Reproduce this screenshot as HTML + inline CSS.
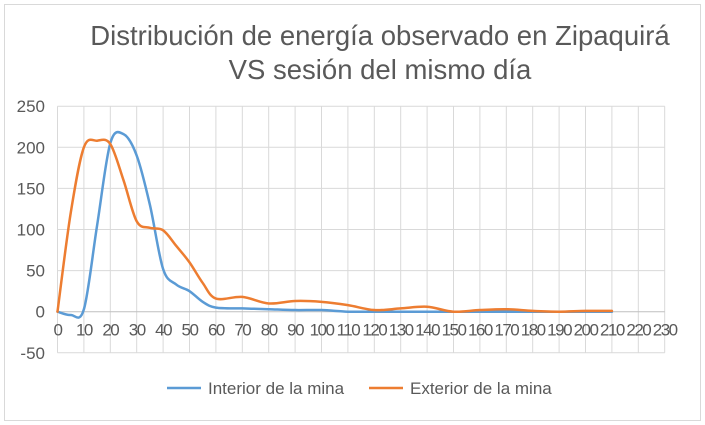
<!DOCTYPE html>
<html><head><meta charset="utf-8"><style>
body{margin:0;background:#fff;}
svg{display:block;font-family:"Liberation Sans",sans-serif;}
</style></head><body>
<svg id="s" width="705" height="425" xmlns="http://www.w3.org/2000/svg">
<rect x="4.5" y="4.5" width="696" height="416" fill="#fff" stroke="#d9d9d9"/>
<text x="380" y="45" font-size="27.5" fill="#595959" text-anchor="middle">Distribución de energía observado en Zipaquirá</text>
<text x="380" y="79" font-size="27.5" fill="#595959" text-anchor="middle">VS sesión del mismo día</text>
<g id="grid" stroke="#d9d9d9" stroke-width="1"></g>
<g id="lab" font-size="17" fill="#595959"></g>
<path id="b" fill="none" stroke="#5b9bd5" stroke-width="2.5" stroke-linecap="round"/>
<path id="o" fill="none" stroke="#ed7d31" stroke-width="2.5" stroke-linecap="round"/>
<line x1="167" y1="388" x2="201" y2="388" stroke="#5b9bd5" stroke-width="2.5"/>
<text x="208" y="394" font-size="17" fill="#595959">Interior de la mina</text>
<line x1="369" y1="388" x2="403" y2="388" stroke="#ed7d31" stroke-width="2.5"/>
<text x="410" y="394" font-size="17" fill="#595959">Exterior de la mina</text>
</svg>
<script>
var X=v=>57.5+v*2.64, Y=v=>311.7-v*0.822;
var g=document.getElementById('grid'),l=document.getElementById('lab'),h='',t='';
for(var v=0;v<=230;v+=10){h+='<line x1="'+X(v)+'" y1="'+Y(250)+'" x2="'+X(v)+'" y2="'+Y(-50)+'"/>';
t+='<text x="'+X(v)+'" y="'+(Y(0)+24)+'" text-anchor="middle" letter-spacing="-1.5">'+v+'</text>';}
for(var v=-50;v<=250;v+=50){h+='<line x1="'+X(0)+'" y1="'+Y(v)+'" x2="'+X(230)+'" y2="'+Y(v)+'"'+(v==0?' stroke="#bfbfbf"':'')+'/>';
t+='<text x="45" y="'+(Y(v)+6)+'" text-anchor="end">'+v+'</text>';}
g.innerHTML=h;l.innerHTML=t;
function path(p){var d='M'+X(p[0][0])+' '+Y(p[0][1]);
for(var i=0;i<p.length-1;i++){var p0=p[Math.max(0,i-1)],p1=p[i],p2=p[i+1],p3=p[Math.min(p.length-1,i+2)];
var c1=[p1[0]+(p2[0]-p0[0])/6,p1[1]+(p2[1]-p0[1])/6],c2=[p2[0]-(p3[0]-p1[0])/6,p2[1]-(p3[1]-p1[1])/6];
d+=' C'+X(c1[0])+' '+Y(c1[1])+' '+X(c2[0])+' '+Y(c2[1])+' '+X(p2[0])+' '+Y(p2[1]);}return d;}
var B=[[0,0],[5,-4],[10,3],[15,105],[20,205],[25,216],[30,190],[35,130],[40,52],[45,33],[50,25],[55,12],[60,5],[70,4],[80,3],[90,2],[100,2],[110,0],[120,0],[130,0],[140,0],[150,0],[160,0],[170,0],[180,0],[190,0],[200,0],[210,0]];
var O=[[0,0],[5,120],[10,200],[15,208],[20,204],[25,160],[30,110],[35,102],[40,99],[45,80],[50,60],[55,35],[60,16],[70,18],[80,10],[90,13],[100,12],[110,8],[120,2],[130,4],[140,6],[150,0],[160,2],[170,3],[180,1],[190,0],[200,1],[210,1]];
document.getElementById('b').setAttribute('d',path(B));
document.getElementById('o').setAttribute('d',path(O));
</script>
</body></html>
